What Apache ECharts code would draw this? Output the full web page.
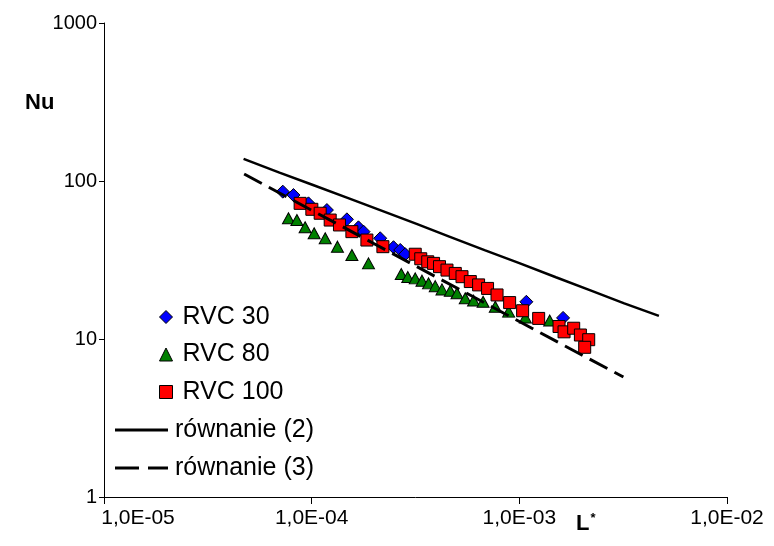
<!DOCTYPE html>
<html><head><meta charset="utf-8">
<script src="https://cdn.jsdelivr.net/npm/echarts@6/dist/echarts.min.js"></script>
<style>html,body{margin:0;padding:0;background:#fff}#c{width:774px;height:546px}</style>
</head><body><div id="c"></div>
<script>
// ---- data ----
const rvc30X = [7.26e-5, 8.17e-5, 9.65e-5, 1.184e-4, 1.478e-4, 1.68e-4, 1.777e-4, 2.138e-4, 2.478e-4, 2.67e-4, 2.822e-4, 1.081e-3, 1.624e-3];
const rvc30Y = [85.6, 81.5, 72.2, 65.5, 57.2, 50.9, 47.8, 43.4, 38.1, 36.6, 34.4, 17.2, 13.6];

const rvc80X = [7.73e-5, 8.49e-5, 9.30e-5, 1.028e-4, 1.162e-4, 1.331e-4, 1.562e-4, 1.878e-4, 2.70e-4, 2.902e-4, 3.153e-4, 3.398e-4, 3.655e-4, 3.936e-4, 4.241e-4, 4.651e-4, 5.01e-4, 5.49e-4, 6.02e-4, 6.69e-4, 7.66e-4, 8.88e-4, 1.069e-3, 1.40e-3];
const rvc80Y = [58.1, 56.6, 50.9, 46.7, 43.4, 38.4, 34.0, 30.1, 25.8, 24.7, 24.2, 23.4, 22.5, 21.6, 20.6, 20.2, 19.5, 18.1, 17.5, 17.2, 16.0, 14.9, 13.7, 13.1];

const rvc100X = [8.80e-5, 1.002e-4, 1.099e-4, 1.228e-4, 1.361e-4, 1.562e-4, 1.845e-4, 2.203e-4, 3.153e-4, 3.352e-4, 3.622e-4, 3.864e-4, 4.127e-4, 4.484e-4, 4.916e-4, 5.295e-4, 5.806e-4, 6.366e-4, 7.03e-4, 7.81e-4, 8.98e-4, 1.037e-3, 1.239e-3, 1.553e-3, 1.642e-3, 1.827e-3, 1.968e-3, 2.158e-3, 2.064e-3];
const rvc100Y = [72.2, 66.2, 62.5, 56.6, 52.7, 47.8, 42.3, 38.4, 34.4, 32.2, 30.8, 30.1, 28.7, 27.3, 26.0, 24.8, 23.1, 22.0, 20.9, 19.0, 17.0, 15.1, 13.5, 12.0, 11.1, 11.7, 10.6, 9.9, 8.86];

const eq2X = [4.7e-5, 7e-5, 1e-4, 1.5e-4, 2.2e-4, 3.2e-4, 4.6e-4, 6.8e-4, 1e-3, 1.5e-3, 2.2e-3, 3.2e-3, 4.7e-3];
const eq2Y = [138, 113, 95, 78, 64.5, 53.5, 44.5, 36.5, 30.2, 24.6, 20.3, 16.8, 14.0];

const eq3X = [4.73e-5, 1e-4, 2e-4, 4e-4, 7e-4, 1e-3, 2e-3, 3.17e-3];
const eq3Y = [110.7, 65.3, 40.1, 24.6, 16.6, 12.9, 7.92, 5.75];

const xTickLabels = ['1,0E-05', '1,0E-04', '1,0E-03', '1,0E-02'];
const yTickLabels = ['1', '10', '100', '1000'];
const seriesNames = ['RVC 30', 'RVC 80', 'RVC 100', 'równanie (2)', 'równanie (3)'];

const zip = (xs, ys) => xs.map((x, i) => [x, ys[i]]);
const FONT = "'Liberation Sans', Arial, sans-serif";

const chart = echarts.init(document.getElementById('c'), null, {renderer: 'canvas'});
chart.setOption({
  backgroundColor: '#fff',
  animation: false,
  grid: {left: 104, top: 23, right: 47, bottom: 49, containLabel: false},
  xAxis: {
    type: 'log', logBase: 10, min: 1e-5, max: 1e-2,
    axisLine: {show: true, onZero: false, lineStyle: {color: '#000', width: 1}},
    axisTick: {show: true, inside: false, length: 7, lineStyle: {color: '#000', width: 1}},
    minorTick: {show: false},
    splitLine: {show: false},
    axisLabel: {
      color: '#000', fontFamily: FONT, fontSize: 21, margin: 11,
      formatter: v => {
        const i = Math.round(Math.log10(v)) + 5;
        const s = xTickLabels[i] || '';
        return i === 0 ? '{f|' + s + '}' : s;
      },
      rich: {f: {padding: [0, 0, 0, 68], fontSize: 21, fontFamily: FONT, color: '#000'}}
    }
  },
  yAxis: {
    type: 'log', logBase: 10, min: 1, max: 1000,
    axisLine: {show: true, onZero: false, lineStyle: {color: '#000', width: 1}},
    axisTick: {show: true, inside: false, length: 5, lineStyle: {color: '#000', width: 1}},
    splitLine: {show: false},
    axisLabel: {
      color: '#000', fontFamily: FONT, fontSize: 20, margin: 7,
      formatter: v => yTickLabels[Math.round(Math.log10(v))] || ''
    }
  },
  legend: [
    {
      data: [
        {name: seriesNames[0], icon: 'diamond'},
        {name: seriesNames[1], icon: 'triangle'},
        {name: seriesNames[2], icon: 'rect'}
      ],
      orient: 'vertical', left: 154, top: 299,
      itemWidth: 13, itemHeight: 13, itemGap: 11.5,
      itemStyle: {borderColor: '#000', borderWidth: 1, opacity: 1},
      textStyle: {fontFamily: FONT, fontSize: 25, lineHeight: 26, color: '#000', padding: [0, 0, 0, 5]},
      selectedMode: false
    },
    {
      data: [
        {name: seriesNames[3], icon: 'path://M0,0H53V3H0Z'},
        {name: seriesNames[4], icon: 'path://M0,0H24V3H0Z M33,0H53V3H33Z'}
      ],
      orient: 'vertical', left: 110, top: 412,
      itemWidth: 53, itemHeight: 3, itemGap: 12,
      itemStyle: {color: '#000', borderWidth: 0},
      lineStyle: {width: 0},
      textStyle: {fontFamily: FONT, fontSize: 25, lineHeight: 26, color: '#000', padding: [0, 0, 0, 2]},
      selectedMode: false
    }
  ],
  graphic: [
    {type: 'text', left: 25, top: 92, style: {text: 'Nu', font: "bold 22px 'Liberation Sans', Arial, sans-serif", fill: '#000'}},
    {type: 'text', left: 576, top: 512, style: {
      text: '{a|L}{b|*}',
      rich: {
        a: {font: "bold 22px 'Liberation Sans', Arial, sans-serif", fill: '#000', verticalAlign: 'bottom'},
        b: {font: "bold 13px 'Liberation Sans', Arial, sans-serif", fill: '#000', verticalAlign: 'top', padding: [0, 0, 10, 1]}
      }
    }}
  ],
  series: [
    {name: seriesNames[0], type: 'scatter', symbol: 'diamond', symbolSize: [13, 13],
      itemStyle: {color: '#0000ff', borderColor: '#000', borderWidth: 1, opacity: 1}, data: zip(rvc30X, rvc30Y)},
    {name: seriesNames[1], type: 'scatter', symbol: 'triangle', symbolSize: [12, 11],
      itemStyle: {color: '#008000', borderColor: '#000', borderWidth: 1, opacity: 1}, data: zip(rvc80X, rvc80Y)},
    {name: seriesNames[2], type: 'scatter', symbol: 'rect', symbolSize: [12, 12],
      itemStyle: {color: '#ff0000', borderColor: '#000', borderWidth: 1, opacity: 1}, data: zip(rvc100X, rvc100Y)},
    {name: seriesNames[3], type: 'line', symbol: 'none', showSymbol: false, smooth: false,
      lineStyle: {color: '#000', width: 2.5, type: 'solid'}, itemStyle: {color: '#000'}, data: zip(eq2X, eq2Y)},
    {name: seriesNames[4], type: 'line', symbol: 'none', showSymbol: false, smooth: false,
      lineStyle: {color: '#000', width: 3, type: [20, 8]}, itemStyle: {color: '#000'}, data: zip(eq3X, eq3Y)}
  ]
});
</script>
</body></html>
